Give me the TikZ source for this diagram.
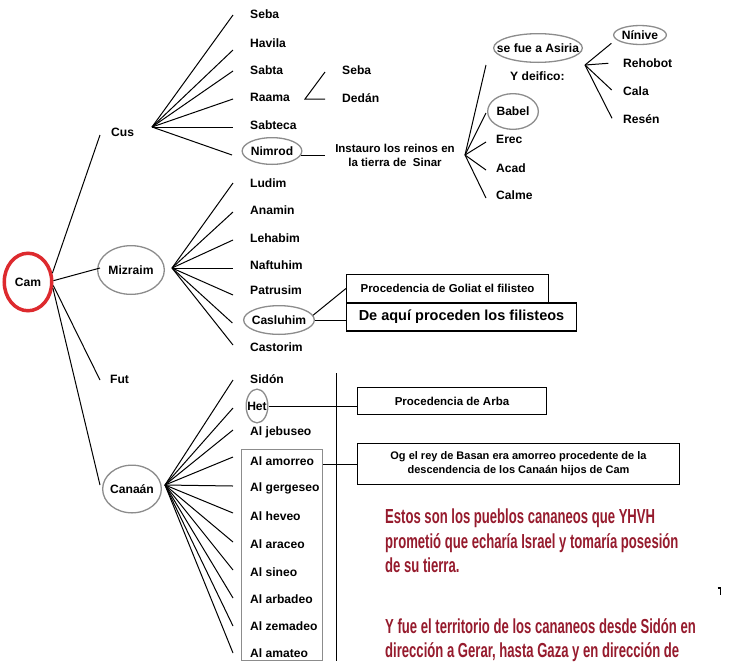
\documentclass[tikz,border=0pt]{standalone}
\usepackage{fontspec}
\setmainfont{Liberation Sans}
\newfontfamily\redfont[FakeStretch=0.645]{Liberation Sans}
\usetikzlibrary{shapes.geometric}
\definecolor{textred}{HTML}{961B2D}
\definecolor{camred}{HTML}{DD2A2E}
\definecolor{ellgray}{HTML}{8C8C8C}
\begin{document}
\begin{tikzpicture}[x=1pt,y=-1pt,
  lbl/.style={font=\bfseries\fontsize{12.1}{14}\selectfont, inner sep=0pt, anchor=base west},
  ell/.style={ellipse, draw=ellgray, line width=1.3pt, inner xsep=-30pt, inner ysep=-30pt,
              font=\bfseries\fontsize{12.1}{14}\selectfont},
  conn/.style={line width=1pt},
  tbox/.style={draw, line width=1.1pt, inner sep=0pt, align=center,
               font=\bfseries\fontsize{11.5}{13.5}\selectfont},
  redline/.style={font=\redfont\bfseries\fontsize{20.3}{24.5}\selectfont, text=textred,
                  inner sep=0pt, anchor=base west}
]
\useasboundingbox (0,0) rectangle (733,662);

% ---- root and first generation
\node[ellipse, draw=camred, line width=3.5pt, inner xsep=-30pt, inner ysep=-30pt,
      minimum width=47.5pt, minimum height=57.5pt,
      font=\bfseries\fontsize{12.1}{14}\selectfont] (cam) at (28,282) {Cam};
\node[lbl] (cus) at (111,136) {Cus};
\node[ell, minimum width=66.7pt, minimum height=48.7pt] (mizraim) at (131,270) {Mizraim};
\node[lbl] (fut) at (110,383) {Fut};
\node[ell, minimum width=58.7pt, minimum height=47.7pt] (canaan) at (132,489) {Canaán};

\draw[conn] (cam.20) -- ([shift={(-11,-1)}]cus.base west);
\draw[conn] (cam.3) -- ([shift={(3,-2)}]mizraim.west);
\draw[conn] (cam.-8) -- ([shift={(-10,-3)}]fut.base west);
\draw[conn] (cam.-14) -- ([shift={(-2,-4)}]canaan.west);

% ---- Cus
\node[lbl] (seba) at (250,18) {Seba};
\node[lbl] (havila) at (250,47) {Havila};
\node[lbl] (sabta) at (250,74) {Sabta};
\node[lbl] (raama) at (250,101.5) {Raama};
\node[lbl] (sabteca) at (250,129) {Sabteca};
\node[ell, minimum width=59.7pt, minimum height=26.7pt] (nimrod) at (272,151) {Nimrod};
\coordinate (cusO) at (152,127);
\draw[conn] (cusO) -- ([shift={(-17,-3)}]seba.base west);
\draw[conn] (cusO) -- ([shift={(-17,3)}]havila.base west);
\draw[conn] (cusO) -- ([shift={(-17,-3)}]sabta.base west);
\draw[conn] (cusO) -- ([shift={(-17,-2.5)}]raama.base west);
\draw[conn] (cusO) -- ([shift={(-17,-2)}]sabteca.base west);
\draw[conn] (cusO) -- ([shift={(-9.5,4)}]nimrod.west);

\node[lbl] (sebab) at (342,74.5) {Seba};
\node[lbl] (dedan) at (342,102) {Dedán};
\coordinate (rv) at (305,99);
\draw[conn] ([shift={(-17,-2.5)}]sebab.base west) -- (rv) -- ([shift={(-17,-3)}]dedan.base west);

\node[font=\bfseries\fontsize{11.5}{13.5}\selectfont, align=center, inner sep=0pt] (instauro)
   at (395,155.3) {Instauro los reinos en\\la tierra de\ \ Sinar};
\draw[conn] (nimrod.-8) -- ([xshift=-10pt]nimrod.-8 -| instauro.west);

% ---- Nimrod's kingdoms
\node[ell, minimum width=88.7pt, minimum height=28.7pt] (asiria) at (538,48) {se fue a Asiria};
\node[lbl] (deifico) at (510,80) {Y deifico:};
\node[ell, minimum width=50.7pt, minimum height=35.7pt] (babel) at (513,111.5) {Babel};
\node[lbl] (erec) at (496,143) {Erec};
\node[lbl] (acad) at (496,172) {Acad};
\node[lbl] (calme) at (496,199) {Calme};
\coordinate (instO) at (465,155);
\draw[conn] (instO) -- ([shift={(-7,17)}]asiria.west);
\draw[conn] (instO) -- ([shift={(-1,1.5)}]babel.west);
\draw[conn] (instO) -- ([shift={(-10,-1)}]erec.base west);
\draw[conn] (instO) -- ([shift={(-10,-2)}]acad.base west);
\draw[conn] (instO) -- ([shift={(-10,-1)}]calme.base west);

\node[ell, minimum width=52.7pt, minimum height=19pt] (ninive) at (640,35) {Nínive};
\node[lbl] (rehobot) at (623,67) {Rehobot};
\node[lbl] (cala) at (623,95) {Cala};
\node[lbl] (resen) at (623,123) {Resén};
\coordinate (asO) at (585,65);
\draw[conn] (asO) -- ([shift={(-1.6,8.3)}]ninive.west);
\draw[conn] (asO) -- ([shift={(-14.7,-3.7)}]rehobot.base west);
\draw[conn] (asO) -- ([shift={(-11.3,-5)}]cala.base west);
\draw[conn] (asO) -- ([shift={(-11,-4.7)}]resen.base west);

% ---- Mizraim
\node[lbl] (ludim) at (250,187) {Ludim};
\node[lbl] (anamin) at (250,214) {Anamin};
\node[lbl] (lehabim) at (250,242) {Lehabim};
\node[lbl] (naftuhim) at (250,269) {Naftuhim};
\node[lbl] (patrusim) at (250,294.5) {Patrusim};
\node[ell, minimum width=70.7pt, minimum height=28.7pt] (casluhim) at (279,320) {Casluhim};
\node[lbl] (castorim) at (250,351) {Castorim};
\coordinate (mizO) at (172,268);
\draw[conn] (mizO) -- ([shift={(-17,-4)}]ludim.base west);
\draw[conn] (mizO) -- ([shift={(-17,-2)}]anamin.base west);
\draw[conn] (mizO) -- ([shift={(-17,-2)}]lehabim.base west);
\draw[conn] (mizO) -- ([shift={(-17,-1)}]naftuhim.base west);
\draw[conn] (mizO) -- ([shift={(-17,0.5)}]patrusim.base west);
\draw[conn] (mizO) -- ([shift={(-10.6,3)}]casluhim.west);
\draw[conn] (mizO) -- ([shift={(-17,-6)}]castorim.base west);

\node[tbox, minimum width=202pt, minimum height=28pt] (box1) at (447.5,288.5)
   {Procedencia de Goliat el filisteo};
\node[tbox, minimum width=230pt, minimum height=28pt,
      font=\bfseries\fontsize{14.5}{16}\selectfont] (box2) at (461.5,317)
   {De aquí proceden los filisteos};
\draw[conn] (casluhim.8) -- (box1.west);
\draw[conn] (casluhim.east) -- (casluhim.east -| box2.west);

% ---- Canaan
\node[lbl] (sidon) at (250,383) {Sidón};
\node[ell, minimum width=21.7pt, minimum height=33.7pt] (het) at (257,406) {Het};
\node[lbl] (jebuseo) at (250,435) {Al jebuseo};
\node[lbl] (amorreo) at (250,465) {Al amorreo};
\node[lbl] (gergeseo) at (250,491) {Al gergeseo};
\node[lbl] (heveo) at (250,520) {Al heveo};
\node[lbl] (araceo) at (250,548) {Al araceo};
\node[lbl] (sineo) at (250,576) {Al sineo};
\node[lbl] (arbadeo) at (250,603) {Al arbadeo};
\node[lbl] (zemadeo) at (250,630) {Al zemadeo};
\node[lbl] (amateo) at (250,657) {Al amateo};
\coordinate (canO) at (165,485);
\draw[conn] (canO) -- ([shift={(-17,-3)}]sidon.base west);
\draw[conn] (canO) -- ([shift={(-12.5,2)}]het.west);
\draw[conn] (canO) -- ([shift={(-17,-5)}]jebuseo.base west);
\draw[conn] (canO) -- ([shift={(-17,-8)}]amorreo.base west);
\draw[conn] (canO) -- ([shift={(-17,-5)}]gergeseo.base west);
\draw[conn] (canO) -- ([shift={(-17,-7)}]heveo.base west);
\draw[conn] (canO) -- ([shift={(-17,-6)}]araceo.base west);
\draw[conn] (canO) -- ([shift={(-17,-6)}]sineo.base west);
\draw[conn] (canO) -- ([shift={(-17,-5)}]arbadeo.base west);
\draw[conn] (canO) -- ([shift={(-17,-4)}]zemadeo.base west);
\draw[conn] (canO) -- ([shift={(-17,-4)}]amateo.base west);

\node[draw=ellgray, line width=1pt, minimum width=81pt, minimum height=211pt, inner sep=0pt]
   (graybox) at (282,555) {};
\coordinate (vtop) at (336,373);
\coordinate (vbot) at (336,661);
\draw[conn] (vtop) -- (vbot);

\node[tbox, minimum width=189pt, minimum height=27pt] (arba) at (452,401) {Procedencia de Arba};
\node[tbox, minimum width=322pt, minimum height=41pt,
      font=\bfseries\fontsize{11}{14}\selectfont] (og) at (518.5,464)
   {Og el rey de Basan era amorreo procedente de la\\descendencia de los Canaán hijos de Cam};
\draw[conn] (het.east) -- (het.east -| arba.west);
\draw[conn] (og.west -| graybox.east) -- (og.west);

% ---- red text
\node[redline] (r1) at (385,523) {Estos son los pueblos cananeos que YHVH};
\node[redline] (r2) at (385,548) {prometió que echaría Israel y tomaría posesión};
\node[redline] (r3) at (385,572) {de su tierra.};
\node[redline] (r4) at (385,633) {Y fue el territorio de los cananeos desde Sidón en};
\node[redline] (r5) at (385,657.5) {dirección a Gerar, hasta Gaza y en dirección de};

\draw[line width=1.6pt] (717.5,588) -- (720.5,588) -- (720.5,594.5);
\end{tikzpicture}
\end{document}
